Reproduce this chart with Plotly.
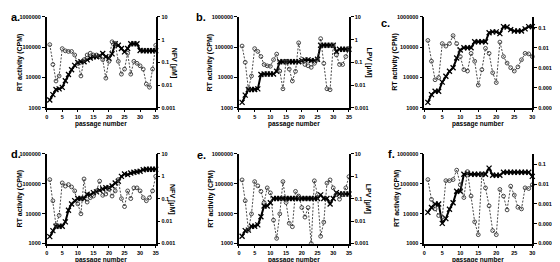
import plotly.graph_objects as go

# ---------------- data ----------------
passages_35 = list(range(1, 36))
passages_30 = list(range(1, 31))

rt_a = [1800, 2700, 4000, 4200, 4700, 7800, 12500, 18000, 25000, 31000, 33000, 33000, 38000, 44000, 48000,
        48000, 51000, 62000, 48000, 43000, 60000, 130000, 115000, 90000, 70000, 90000, 130000, 130000, 130000,
        78000, 76000, 76000, 76000, 76000, 76000]
nfv_a = [0.6, 0.08, 0.015, 0.025, 0.4, 0.32, 0.3, 0.3, 0.21, 0.09, 0.025, 0.13, 0.21, 0.25, 0.21, 0.21, 0.18,
         0.13, 0.02, 0.11, 0.8, 0.68, 0.11, 0.03, 0.05, 0.25, 0.03, 0.11, 0.09, 0.07, 0.05, 0.011, 0.008, 0.05, 0.56]

rt_b = [1500, 2600, 4000, 4000, 4000, 4200, 12500, 13000, 13000, 13000, 13000, 16000, 33000, 33000, 33000,
        33000, 33000, 33000, 33000, 36000, 38000, 38000, 36000, 36000, 40000, 115000, 115000, 115000, 115000,
        115000, 72000, 85000, 85000, 85000, 85000]
lpv_b = [0.52, 0.1, 0.0068, 0.025, 0.4, 0.3, 0.18, 0.08, 0.07, 0.067, 0.13, 0.23, 0.041, 0.0068, 0.11, 0.05,
         0.015, 0.04, 0.72, 0.11, 0.08, 0.07, 0.06, 0.09, 0.13, 1.1, 0.09, 0.0068, 0.0062, 0.57, 0.21, 0.08,
         0.08, 0.18, 0.4]

rt_c = [1500, 2700, 3500, 3500, 7000, 11000, 16000, 21000, 44000, 81000, 96000, 96000, 96000, 150000, 150000,
        150000, 150000, 300000, 320000, 320000, 280000, 475000, 460000, 380000, 340000, 340000, 340000, 400000,
        475000, 475000]
atv_c = [0.023, 0.0021, 0.00025, 0.00032, 0.016, 0.012, 0.016, 0.04, 0.016, 0.0036, 0.0008, 0.00068, 0.0052,
         0.0021, 0.000135, 0.0008, 0.0093, 0.0052, 0.00056, 0.00018, 0.019, 0.0036, 0.0017, 0.001, 0.00068,
         0.0011, 0.0025, 0.0052, 0.0049, 0.0036]

rt_d = [1700, 2700, 3800, 3800, 3800, 5300, 13000, 21000, 27000, 32000, 32000, 32000, 44000, 42000, 50000,
        53000, 60000, 66000, 73000, 73000, 83000, 105000, 120000, 175000, 210000, 200000, 225000, 240000,
        250000, 260000, 290000, 300000, 300000, 300000, 300000]
nfv_d = [0.7, 0.08, 0.0066, 0.018, 0.5, 0.36, 0.42, 0.33, 0.22, 0.058, 0.021, 0.75, 0.07, 0.11, 0.13, 0.22,
         0.6, 0.14, 0.16, 0.26, 0.13, 0.22, 0.7, 0.1, 0.044, 0.22, 0.1, 0.3, 0.3, 0.22, 0.11, 0.08, 0.11, 0.22, 0.98]

rt_e = [1750, 2700, 2800, 3800, 3800, 4200, 7800, 18000, 18000, 23000, 32000, 32000, 32000, 32000, 32000,
        32000, 32000, 32000, 32000, 32000, 32000, 32000, 32000, 32000, 32000, 42000, 32000, 32000, 21000,
        32000, 50000, 45000, 45000, 45000, 45000]
lpv_e = [0.68, 0.08, 0.004, 0.021, 0.57, 0.37, 0.21, 0.067, 0.3, 0.18, 0.011, 0.0017, 0.021, 0.57, 0.067,
         0.008, 0.0056, 0.21, 0.13, 0.04, 0.015, 0.04, 0.001, 0.62, 0.15, 0.0021, 0.009, 0.49, 0.68, 0.3,
         0.15, 0.094, 0.15, 0.3, 0.95]

rt_f = [11000, 16000, 21000, 21000, 4700, 6800, 14000, 23000, 56000, 56000, 205000, 220000, 205000, 205000,
        205000, 205000, 205000, 330000, 190000, 190000, 190000, 240000, 240000, 240000, 240000, 240000, 240000,
        240000, 240000, 175000]
atv_f = [0.017, 0.0017, 0.00056, 0.00026, 0.00022, 0.015, 0.015, 0.017, 0.051, 0.0093, 0.0021, 0.043, 0.0025,
         0.000125, 0.000028, 0.032, 0.0065, 0.0008, 0.000045, 0.000028, 0.0054, 0.0025, 0.0005, 0.0079,
         0.0028, 0.00068, 0.00056, 0.0065, 0.006, 0.0093]

rt_ticks = [1000, 10000, 100000, 1000000]
rt_ticktext = ["1000", "10000", "100000", "1000000"]
um_ticks = [0.001, 0.01, 0.1, 1, 10]
um_ticktext = ["0.001", "0.01", "0.1", "1", "10"]
nm_ticks = [0.00001, 0.0001, 0.001, 0.01, 0.1]
nm_ticktext = ["0.00001", "0.0001", "0.001", "0.01", "0.1"]

# ---------------- layout ----------------
W, H = 560, 262
FONT = "Liberation Sans, Arial, sans-serif"

panels = [
    dict(letter="a.", x=passages_35, rt=rt_a, drug=nfv_a, dname="NFV [µM]", xmax=35, kind="um",
         px=(37, 147), py=(6, 99), lx=(-1, 6), ltx=10, rtx=165),
    dict(letter="b.", x=passages_35, rt=rt_b, drug=lpv_b, dname="LPV [µM]", xmax=35, kind="um",
         px=(231, 342), py=(6, 99), lx=(186, 6), ltx=202, rtx=362),
    dict(letter="c.", x=passages_30, rt=rt_c, drug=atv_c, dname="ATV [nM]", xmax=30, kind="nm",
         px=(418, 527), py=(6, 99), lx=(372, 12), ltx=389, rtx=551),
    dict(letter="d.", x=passages_35, rt=rt_d, drug=nfv_d, dname="NFV [µM]", xmax=35, kind="um",
         px=(37, 147), py=(146, 238), lx=(-1, 146), ltx=10, rtx=164),
    dict(letter="e.", x=passages_35, rt=rt_e, drug=lpv_e, dname="LPV [µM]", xmax=35, kind="um",
         px=(231, 342), py=(146, 238), lx=(187, 147), ltx=202, rtx=362),
    dict(letter="f.", x=passages_30, rt=rt_f, drug=atv_f, dname="ATV [nM]", xmax=30, kind="nm",
         px=(418, 527), py=(146, 238), lx=(379, 146), ltx=390, rtx=552),
]

fig = go.Figure()
layout = dict(width=W, height=H, margin=dict(l=0, r=0, t=0, b=0), showlegend=False,
              paper_bgcolor="white", plot_bgcolor="white", font=dict(family=FONT, color="black"))
annotations = []

tickfont = dict(family=FONT, size=5.5, color="black", weight="bold")
titlefont = dict(family=FONT, size=7, color="black", weight="bold")

for i, p in enumerate(panels):
    n = i + 1
    xa = "x" if n == 1 else f"x{n}"
    ly = 2 * i + 1
    ry = 2 * i + 2
    lya = "y" if ly == 1 else f"y{ly}"
    rya = f"y{ry}"
    xkey = "xaxis" if n == 1 else f"xaxis{n}"
    lkey = "yaxis" if ly == 1 else f"yaxis{ly}"
    rkey = f"yaxis{ry}"

    xd = [p["px"][0] / W, p["px"][1] / W]
    yd = [(H - p["py"][1]) / H, (H - p["py"][0]) / H]

    common = dict(ticks="outside", ticklen=3, tickwidth=1.2, tickcolor="black",
                  showline=True, linewidth=1.5, linecolor="black", showgrid=False, zeroline=False,
                  tickfont=tickfont)
    layout[xkey] = dict(domain=xd, anchor=lya, range=[0, p["xmax"]],
                        tickvals=list(range(0, p["xmax"] + 1, 5)), **common)
    layout[lkey] = dict(domain=yd, anchor=xa, type="log", range=[3, 6],
                        tickvals=rt_ticks, ticktext=rt_ticktext, **common)
    if p["kind"] == "um":
        rrange, rvals, rtext = [-3, 1], um_ticks, um_ticktext
    else:
        rrange, rvals, rtext = [-5, -0.46], nm_ticks, nm_ticktext
    layout[rkey] = dict(domain=yd, anchor=xa, overlaying=lya, side="right", type="log", range=rrange,
                        tickvals=rvals, ticktext=rtext, **common)

    fig.add_trace(go.Scatter(x=p["x"], y=p["rt"], xaxis=xa, yaxis=lya, mode="lines+markers",
                             line=dict(color="black", width=2),
                             marker=dict(symbol="x-thin-open", size=5, color="black",
                                         line=dict(width=1.3, color="black")),
                             cliponaxis=False))
    fig.add_trace(go.Scatter(x=p["x"], y=p["drug"], xaxis=xa, yaxis=rya, mode="lines+markers",
                             line=dict(color="#333", width=0.9, dash="2px,1.5px"),
                             marker=dict(symbol="circle-open", size=3.8, color="#333", line=dict(width=0.9)),
                             cliponaxis=False))

    cx = (p["px"][0] + p["px"][1]) / 2
    cy = (p["py"][0] + p["py"][1]) / 2
    annotations.append(dict(text=p["letter"], x=p["lx"][0] / W, y=(H - p["lx"][1]) / H,
                            xref="paper", yref="paper", xanchor="left", yanchor="middle", showarrow=False,
                            font=dict(family=FONT, size=11, color="black", weight="bold")))
    annotations.append(dict(text="passage number", x=cx / W, y=(H - (p["py"][1] + 17)) / H,
                            xref="paper", yref="paper", xanchor="center", yanchor="middle",
                            showarrow=False, font=dict(family=FONT, size=6.5, color="black", weight="bold")))
    annotations.append(dict(text="RT activity (CPM)", x=p["ltx"] / W, y=(H - cy) / H, textangle=-90,
                            xref="paper", yref="paper", xanchor="center", yanchor="middle",
                            showarrow=False, font=titlefont))
    annotations.append(dict(text=p["dname"], x=p["rtx"] / W, y=(H - cy) / H, textangle=90,
                            xref="paper", yref="paper", xanchor="center", yanchor="middle",
                            showarrow=False, font=titlefont))

layout["annotations"] = annotations
fig.update_layout(**layout)
fig.write_html("out.html")
